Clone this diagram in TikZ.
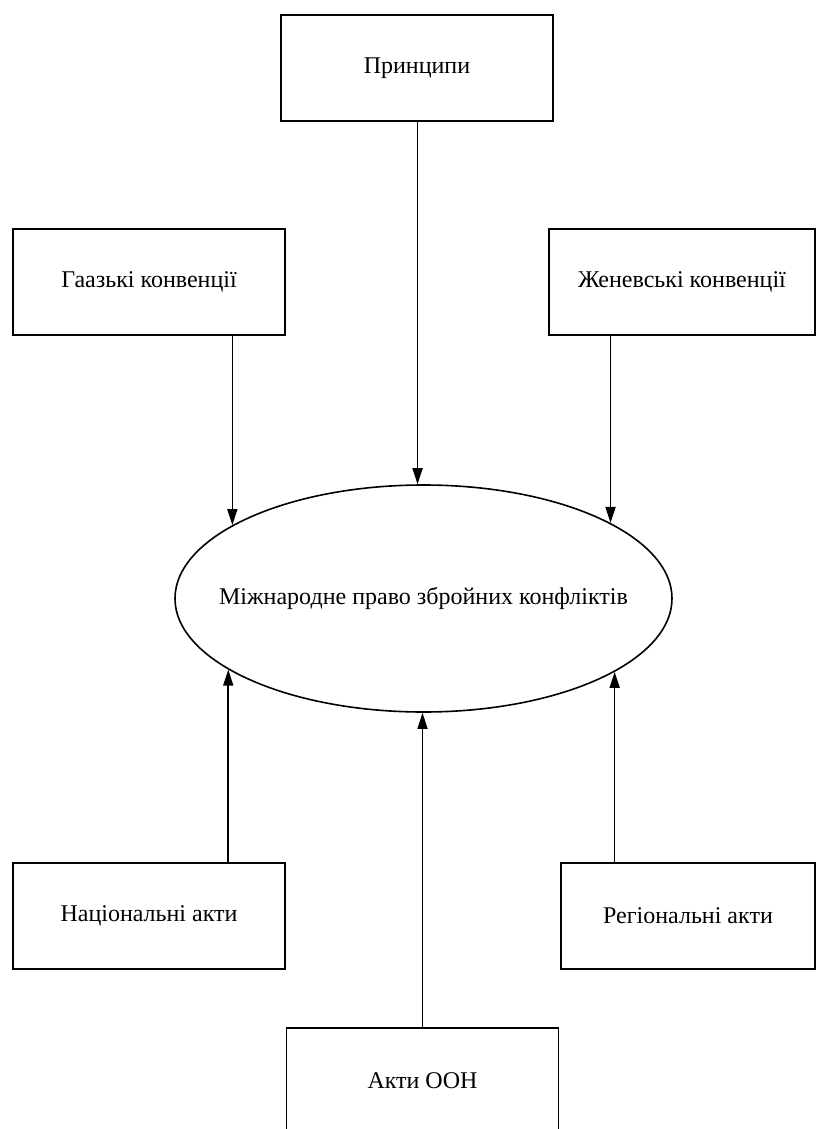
\documentclass[tikz,border=0pt]{standalone}
\usepackage{fontspec}
\setmainfont{Liberation Serif}
\usetikzlibrary{arrows.meta, shapes.geometric}

\begin{document}
\begin{tikzpicture}[x=1pt, y=-1pt, >={Triangle[length=16pt, width=10pt]},
    box/.style={draw, line width=1.6pt, minimum width=272pt, minimum height=106pt,
        inner sep=0pt, font=\fontsize{24}{28}\selectfont},
    link/.style={->, line width=1.6pt}]
        \clip (0,0) rectangle (819,1129);

        % Centre
        \node[draw, ellipse, line width=1.6pt, minimum width=497pt, minimum height=227pt,
            inner xsep=-30pt, inner ysep=0pt, font=\fontsize{24}{28}\selectfont] (law) at (423.5,598.5)
            {Міжнародне право збройних конфліктів};

        % Sources above
        \node[box] (princ) at (417,68) {Принципи};
        \node[box] (hague) at (149,282) {Гаазькі конвенції};
        \node[box, minimum width=266pt] (geneva) at (682,282) {Женевські конвенції};

        % Sources below
        \node[box] (natl) at (149,916) {Національні акти};
        \node[box, minimum width=254pt] (regl) at (688,916) {Регіональні акти};
        \node[box] (un) at (422.5,1081) {Акти ООН};

        % Links
        \draw[link] (law.93.3 |- princ.south) -- (law.93.3);
        \draw[link] (law.159.55 |- hague.south) -- (law.159.55);
        \draw[link] (law.22.15 |- geneva.south) -- (law.22.15);
        \draw[link] (law.200.45 |- natl.north) -- (law.200.45);
        \draw[link] (law.339.55 |- regl.north) -- (law.339.55);
        \draw[link] (un.north) -- (un.north |- law.south);
    \end{tikzpicture}
\end{document}
